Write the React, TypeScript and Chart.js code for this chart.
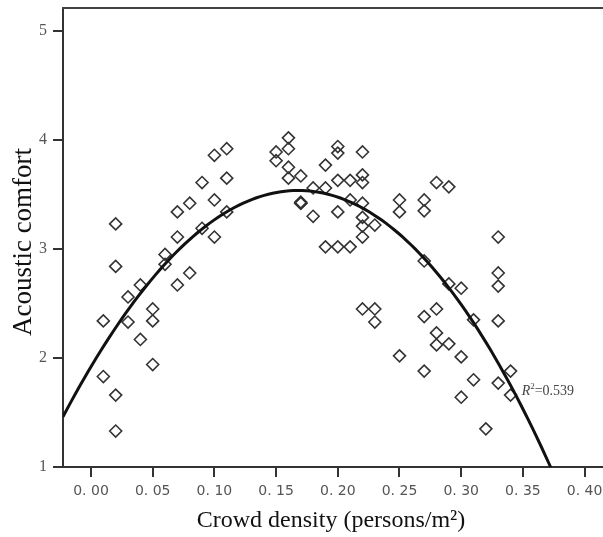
import { useEffect, useRef } from 'react';
import { Chart, registerables } from 'chart.js';

Chart.register(...registerables);

// Scatter observations: crowd density (persons/m²) vs acoustic comfort
const densityX = [
  0.02, 0.02, 0.01, 0.01, 0.02, 0.02, 0.03, 0.03, 0.04, 0.04,
  0.05, 0.05, 0.05, 0.06, 0.06, 0.07, 0.07, 0.07, 0.08, 0.08,
  0.09, 0.09, 0.10, 0.10, 0.10, 0.11, 0.11, 0.11,
  0.16, 0.16, 0.15, 0.15, 0.16, 0.16, 0.17, 0.17, 0.17, 0.17,
  0.18, 0.18, 0.19, 0.19, 0.19, 0.20, 0.20, 0.20, 0.20, 0.20,
  0.21, 0.21, 0.21, 0.22, 0.22, 0.22, 0.22, 0.22, 0.22, 0.22,
  0.23, 0.22, 0.23, 0.23, 0.25, 0.25, 0.25,
  0.27, 0.27, 0.27, 0.28, 0.29, 0.33, 0.33, 0.33, 0.29, 0.30,
  0.28, 0.27, 0.31, 0.33, 0.28, 0.28, 0.29, 0.30, 0.27, 0.34,
  0.31, 0.33, 0.34, 0.30, 0.32,
];
const comfortY = [
  3.23, 2.84, 2.34, 1.83, 1.66, 1.33, 2.56, 2.33, 2.67, 2.17,
  2.45, 2.34, 1.94, 2.95, 2.86, 2.67, 3.11, 3.34, 2.78, 3.42,
  3.61, 3.19, 3.86, 3.45, 3.11, 3.92, 3.65, 3.34,
  4.02, 3.92, 3.89, 3.81, 3.75, 3.65, 3.67, 3.42, 3.42, 3.43,
  3.56, 3.30, 3.77, 3.56, 3.02, 3.94, 3.88, 3.63, 3.34, 3.02,
  3.63, 3.45, 3.02, 3.89, 3.68, 3.61, 3.42, 3.29, 3.21, 3.11,
  3.22, 2.45, 2.45, 2.33, 3.45, 3.34, 2.02,
  3.45, 3.35, 2.89, 3.61, 3.57, 3.11, 2.78, 2.66, 2.68, 2.64,
  2.45, 2.38, 2.35, 2.34, 2.23, 2.12, 2.13, 2.01, 1.88, 1.88,
  1.80, 1.77, 1.66, 1.64, 1.35,
];

// Fitted regression curve (polynomial coefficients c0 + c1 x + c2 x² + c3 x³)
const fitCoefficients = [1.92, 19.0, -54.3, -9.0];
const fitXStart = -0.0227;
const fitXEnd = 0.385;
const rSquaredValue = '0.539';

// Axes
const xTickValues = [0, 0.05, 0.1, 0.15, 0.2, 0.25, 0.3, 0.35, 0.4];
const xTickLabels = ['0. 00', '0. 05', '0. 10', '0. 15', '0. 20', '0. 25', '0. 30', '0. 35', '0. 40'];
const yTickValues = [1, 2, 3, 4, 5];
const yTickLabels = ['1', '2', '3', '4', '5'];
const xMin = -0.02269;
const xMax = 0.4449;
const yMin = 1;
const yMax = 5.211;
const xTitle = 'Crowd density (persons/m²)';
const yTitle = 'Acoustic comfort';

function fitValue(x: number): number {
  return fitCoefficients.reduce((s, c, i) => s + c * Math.pow(x, i), 0);
}

export default function App() {
  const ref = useRef<HTMLCanvasElement | null>(null);

  useEffect(() => {
    if (!ref.current) return;

    const curve: { x: number; y: number }[] = [];
    const steps = 120;
    for (let i = 0; i <= steps; i++) {
      const x = fitXStart + ((fitXEnd - fitXStart) * i) / steps;
      curve.push({ x, y: fitValue(x) });
    }
    const points = densityX.map((x, i) => ({ x, y: comfortY[i] }));

    const decor = {
      id: 'decor',
      afterDraw(chart: any) {
        const { ctx, chartArea, scales } = chart;
        ctx.save();
        // top frame line
        ctx.strokeStyle = '#444';
        ctx.lineWidth = 2;
        ctx.beginPath();
        ctx.moveTo(chartArea.left - 1, chartArea.top);
        ctx.lineTo(chart.width, chartArea.top);
        ctx.stroke();

        // axis titles
        ctx.fillStyle = '#111';
        ctx.textAlign = 'center';
        ctx.textBaseline = 'middle';
        ctx.font = '24px "Liberation Serif"';
        ctx.fillText(xTitle, 331, 521);
        ctx.save();
        ctx.translate(24, 242);
        ctx.rotate(-Math.PI / 2);
        ctx.font = '27px "Liberation Serif"';
        ctx.fillText(yTitle, 0, 0);
        ctx.restore();

        // R² label
        const rx = scales.x.getPixelForValue(0.349);
        const ry = scales.y.getPixelForValue(1.66);
        ctx.fillStyle = '#444';
        ctx.textAlign = 'left';
        ctx.textBaseline = 'alphabetic';
        ctx.font = 'italic 14px "Liberation Serif"';
        ctx.fillText('R', rx, ry);
        let w = ctx.measureText('R').width;
        ctx.font = '9px "Liberation Serif"';
        ctx.fillText('2', rx + w, ry - 6);
        w += ctx.measureText('2').width;
        ctx.font = '14px "Liberation Serif"';
        ctx.fillText('=' + rSquaredValue, rx + w, ry);
        ctx.restore();
      },
    };

    const chart = new Chart(ref.current, {
      type: 'scatter',
      data: {
        datasets: [
          {
            type: 'line',
            data: curve,
            borderColor: '#111',
            borderWidth: 3,
            pointRadius: 0,
            tension: 0,
            fill: false,
          } as any,
          {
            data: points,
            pointStyle: 'rectRot',
            pointRadius: 6,
            pointBorderWidth: 1.6,
            pointBorderColor: '#333',
            pointBackgroundColor: 'rgba(0,0,0,0)',
            borderColor: '#333',
            backgroundColor: 'rgba(0,0,0,0)',
          },
        ],
      },
      options: {
        responsive: false,
        devicePixelRatio: 1,
        animation: false,
        layout: { autoPadding: false, padding: { top: 8, left: 0, right: 0, bottom: 0 } },
        plugins: { legend: { display: false }, tooltip: { enabled: false } },
        scales: {
          x: {
            type: 'linear',
            min: xMin,
            max: xMax,
            afterBuildTicks: (s: any) => {
              s.ticks = xTickValues.map((v) => ({ value: v }));
            },
            afterFit: (s: any) => {
              s.height = 70;
              s.paddingLeft = 0;
              s.paddingRight = 0;
            },
            ticks: {
              autoSkip: false,
              maxRotation: 0,
              padding: 6,
              color: '#555',
              font: { family: '"DejaVu Sans"', size: 14 },
              callback: (_v: any, i: number) => xTickLabels[i],
            },
            grid: {
              display: true,
              drawOnChartArea: false,
              drawTicks: true,
              tickLength: 10,
              color: '#333',
              lineWidth: 2,
            },
            border: { display: true, color: '#333', width: 2 },
          },
          y: {
            type: 'linear',
            min: yMin,
            max: yMax,
            afterBuildTicks: (s: any) => {
              s.ticks = yTickValues.map((v) => ({ value: v }));
            },
            afterFit: (s: any) => {
              s.width = 63;
              s.paddingTop = 0;
              s.paddingBottom = 0;
            },
            ticks: {
              padding: 6,
              color: '#555',
              font: { family: '"Liberation Serif"', size: 16 },
              callback: (_v: any, i: number) => yTickLabels[i],
            },
            grid: {
              display: true,
              drawOnChartArea: false,
              drawTicks: true,
              tickLength: 10,
              color: '#333',
              lineWidth: 2,
            },
            border: { display: true, color: '#333', width: 2 },
          },
        },
      },
      plugins: [decor],
    });

    return () => chart.destroy();
  }, []);

  return (
    <div
      style={{
        position: 'fixed',
        left: 0,
        top: 0,
        width: 603,
        height: 537,
        overflow: 'hidden',
        background: '#fff',
      }}
    >
      <canvas ref={ref} width={640} height={537} style={{ display: 'block', width: 640, height: 537 }} />
    </div>
  );
}
